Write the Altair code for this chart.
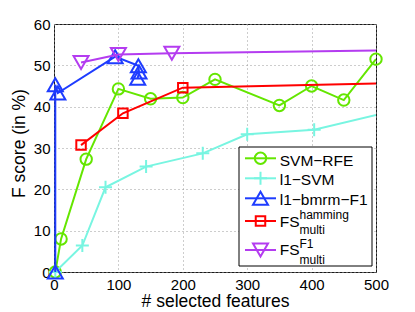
import altair as alt
import pandas as pd

# ---------------- data ----------------
names = ["SVM-RFE", "l1-SVM", "l1-bmrm-F1", "FS hamming", "FS F1"]

svm_rfe_x = [2, 11, 50, 100, 150, 200, 250, 350, 400, 450, 500]
svm_rfe_y = [0, 8.0, 27.3, 44.3, 41.9, 42.2, 46.6, 40.3, 45.0, 41.6, 51.5]

l1_svm_x = [2, 44, 80, 143, 231, 300, 404, 540]
l1_svm_y = [0, 6.4, 20.5, 25.5, 28.7, 33.3, 34.4, 39.5]

bmrm_x = [2, 2, 6, 95, 131, 132, 130]
bmrm_y = [0, 45.3, 43.3, 52.1, 49.9, 48.4, 46.9]

fs_ham_x = [42, 107, 200, 600]
fs_ham_y = [30.7, 38.4, 44.6, 45.9]

fs_f1_x = [42, 100, 183, 600]
fs_f1_y = [50.7, 52.6, 52.9, 53.8]

x_ticks = [0, 100, 200, 300, 400, 500]
y_ticks = [0, 10, 20, 30, 40, 50, 60]

legend_labels = ["SVM\u2212RFE", "l1\u2212SVM", "l1\u2212bmrm\u2212F1", "FS", "FS"]
legend_sup = ["", "", "", "hamming", "F1"]
legend_sub = ["", "", "", "multi", "multi"]

# ---------------- style ----------------
colors = ["#64e600", "#78f5e1", "#1e3cff", "#ff0000", "#b43cf0"]
plus = "M-1,0L1,0M0,-1L0,1"
shapes = ["circle", plus, "triangle-up", "square", "triangle-down"]
msizes = [130, 169, 225, 90, 225]
FONT = "Liberation Sans"

W, H = 322, 248

xscale = alt.Scale(domain=[0, 500], nice=False, zero=False)
yscale = alt.Scale(domain=[0, 60], nice=False)

xaxis = alt.Axis(values=x_ticks, title="# selected features", grid=True,
                 gridDash=[1, 3], gridColor="#9a9a9a", gridWidth=1,
                 ticks=False, tickSize=0, domain=False,
                 labelFont=FONT, labelFontSize=15, labelColor="black",
                 labelPadding=5, labelFlush=False,
                 titleFont=FONT, titleFontSize=17.5, titleFontWeight="normal",
                 titleColor="black", titleX=W / 2, titleY=34.5,
                 titleBaseline="alphabetic", titleAlign="center")
yaxis = alt.Axis(values=y_ticks, title="F score (in %)", grid=True,
                 gridDash=[1, 3], gridColor="#9a9a9a", gridWidth=1,
                 ticks=False, tickSize=0, domain=False,
                 labelFont=FONT, labelFontSize=15, labelColor="black",
                 labelPadding=4, labelFlush=False,
                 titleFont=FONT, titleFontSize=17.5, titleFontWeight="normal",
                 titleColor="black", titleX=-30, titleY=119,
                 titleBaseline="alphabetic", titleAlign="center", titleAngle=270)

series = [(svm_rfe_x, svm_rfe_y), (l1_svm_x, l1_svm_y), (bmrm_x, bmrm_y),
          (fs_ham_x, fs_ham_y), (fs_f1_x, fs_f1_y)]

layers = []
for k, (xs, ys) in enumerate(series):
    df = pd.DataFrame({"x": xs, "y": ys, "i": list(range(len(xs))),
                       "name": names[k]})
    enc = dict(x=alt.X("x:Q", scale=xscale, axis=xaxis),
               y=alt.Y("y:Q", scale=yscale, axis=yaxis))
    line = alt.Chart(df).mark_line(color=colors[k], strokeWidth=2, clip=True).encode(
        order="i:Q", **enc)
    pts = alt.Chart(df).mark_point(shape=shapes[k], size=msizes[k], filled=False,
                                   color=colors[k], strokeWidth=2, opacity=1).encode(
        **enc).transform_filter("datum.x <= 500")
    layers += [line, pts]

# ---------------- legend (manual, MATLAB-like) ----------------
one = pd.DataFrame({"a": [0]})
layers.append(alt.Chart(one).mark_rect(fill="white", stroke="black", strokeWidth=1).encode(
    x=alt.value(185), x2=alt.value(318), y=alt.value(123), y2=alt.value(242)))

row_marker_y = [134.3, 154.3, 174.3, 197, 226]
row_text_y = [142, 161, 181, 202.7, 231]
row_sup_y = [0, 0, 0, 195, 224.3]
row_sub_y = [0, 0, 0, 210.3, 240.3]

for k in range(5):
    d = pd.DataFrame({"name": [names[k]]})
    layers.append(alt.Chart(d).mark_rule(color=colors[k], strokeWidth=2).encode(
        x=alt.value(191), x2=alt.value(222), y=alt.value(row_marker_y[k])))
    layers.append(alt.Chart(d).mark_point(shape=shapes[k], size=msizes[k], filled=False,
                                          color=colors[k], strokeWidth=2, opacity=1).encode(
        x=alt.value(206.5), y=alt.value(row_marker_y[k])))
    layers.append(alt.Chart(d).mark_text(align="left", baseline="alphabetic", font=FONT,
                                         fontSize=15.5, color="black").encode(
        x=alt.value(225.7), y=alt.value(row_text_y[k]), text=alt.value(legend_labels[k])))
    if legend_sup[k]:
        layers.append(alt.Chart(d).mark_text(align="left", baseline="alphabetic", font=FONT,
                                             fontSize=12, color="black").encode(
            x=alt.value(245.5), y=alt.value(row_sup_y[k]), text=alt.value(legend_sup[k])))
        layers.append(alt.Chart(d).mark_text(align="left", baseline="alphabetic", font=FONT,
                                             fontSize=12, color="black").encode(
            x=alt.value(245.5), y=alt.value(row_sub_y[k]), text=alt.value(legend_sub[k])))

chart = alt.layer(*layers).properties(
    width=W, height=H,
    autosize=alt.AutoSizeParams(type="none"),
    padding={"left": 46, "top": 16, "right": 30, "bottom": 40},
    background="white",
).configure_view(stroke="#1a1a1a", strokeWidth=1)

chart.save("out.html", embed_options={"renderer": "svg", "actions": False})
